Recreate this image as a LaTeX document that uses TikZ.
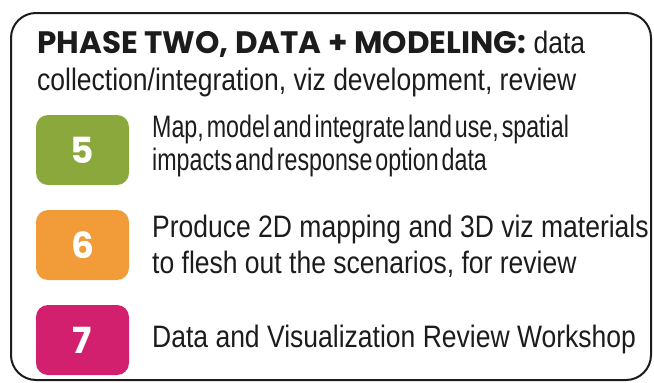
\documentclass[tikz,border=0pt]{standalone}
\usepackage{fontspec}
\usepackage{tikz}
\usetikzlibrary{positioning}

\setmainfont{Liberation Sans}
\newfontfamily\headfont{Poppins}
\newfontfamily\bodyfont{Liberation Sans}[FakeStretch=0.855]
\newfontfamily\tightfont{Liberation Sans}[FakeStretch=0.75, WordSpace=0.45]

\definecolor{ink}{RGB}{28,28,28}
\definecolor{stepgreen}{RGB}{139,168,60}
\definecolor{steporange}{RGB}{241,156,56}
\definecolor{stepmagenta}{RGB}{210,32,110}

\tikzset{
    numbox/.style={rounded corners=12pt, minimum width=93pt, minimum height=70pt,
        inner sep=0pt, text=white, font=\headfont\bfseries\fontsize{36}{36}\selectfont},
    itemline/.style={anchor=base west, inner sep=0pt, text=ink,
        font=\bodyfont\fontsize{31}{31}\selectfont},
}

\begin{document}
\begin{tikzpicture}[x=1pt, y=-1pt]
    \useasboundingbox (0,0) rectangle (654,383);

    % outer frame
    \draw[ink, line width=2pt, rounded corners=25pt] (11,13) rectangle (651,380);

    % heading
    \node[itemline] at (37,53) (head1)
        {{\headfont\bfseries\fontsize{31}{31}\selectfont PHASE TWO, DATA + MODELING:} data};
    \node[itemline] at (37,90) (head2)
        {collection/integration, viz development, review};

    % numbered steps
    \node[numbox, fill=stepgreen]   at (82.5,150) (box5) {5};
    \node[numbox, fill=steporange]  at (82.5,245) (box6) {6};
    \node[numbox, fill=stepmagenta] at (82.5,340) (box7) {7};

    \node[itemline, font=\tightfont\fontsize{31}{31}\selectfont] at (152,137) (item5a)
        {Map, model and integrate land use, spatial};
    \node[itemline, font=\tightfont\fontsize{31}{31}\selectfont] at (152,170) (item5b)
        {impacts and response option data};

    \node[itemline] at (152,237) (item6a) {Produce 2D mapping and 3D viz materials};
    \node[itemline] at (152,273) (item6b) {to flesh out the scenarios, for review};

    \node[itemline] at (152,347) (item7) {Data and Visualization Review Workshop};
\end{tikzpicture}
\end{document}
